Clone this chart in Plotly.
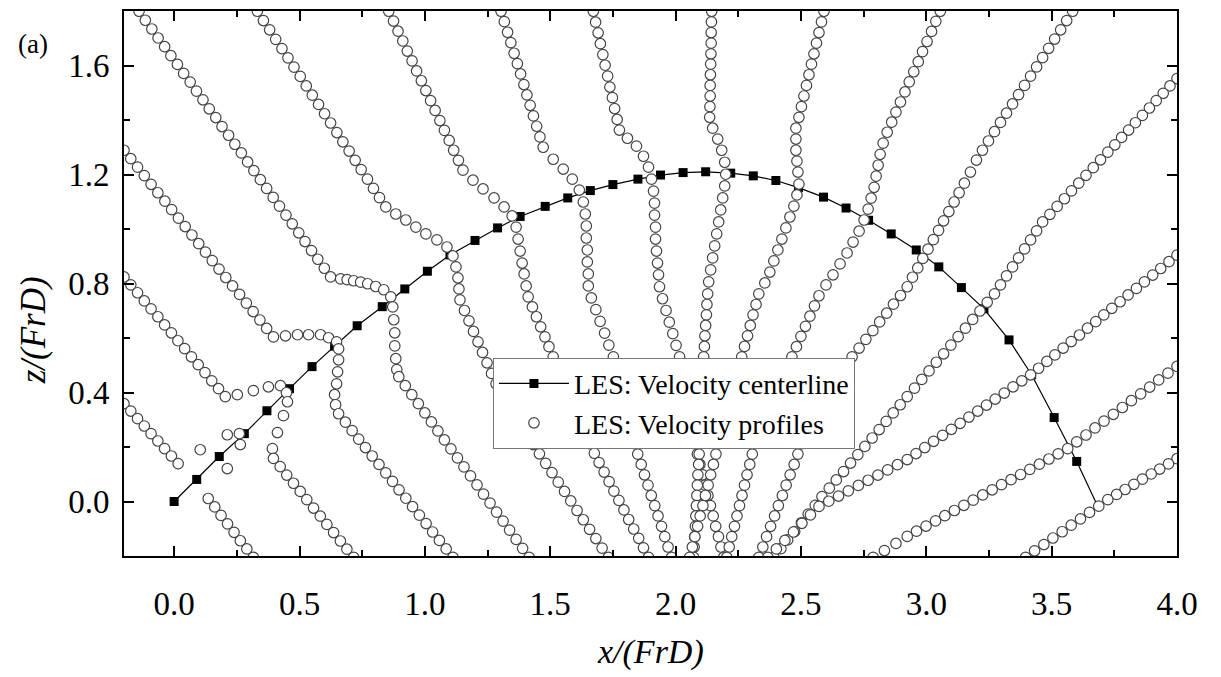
import plotly.graph_objects as go

# ---------------- data ----------------
center_x = [0.00, 0.09, 0.18, 0.28, 0.37, 0.46, 0.55, 0.64, 0.73, 0.83, 0.92, 1.01, 1.10, 1.20,
            1.29, 1.38, 1.48, 1.57, 1.66, 1.75, 1.85, 1.94, 2.03, 2.12, 2.22, 2.31, 2.40, 2.49,
            2.59, 2.68, 2.77, 2.86, 2.96, 3.05, 3.14, 3.23, 3.33, 3.42, 3.51, 3.60]
center_z = [0.000, 0.081, 0.165, 0.249, 0.333, 0.414, 0.495, 0.570, 0.645, 0.715, 0.780, 0.845,
            0.905, 0.958, 1.004, 1.046, 1.083, 1.114, 1.141, 1.163, 1.183, 1.198, 1.207, 1.210,
            1.205, 1.195, 1.178, 1.152, 1.117, 1.077, 1.032, 0.982, 0.923, 0.861, 0.785, 0.707,
            0.593, 0.465, 0.308, 0.147]
center_tail_x = [3.60, 3.68]
center_tail_z = [0.147, -0.01]

L3_x = [-0.200, -0.173, -0.146, -0.119, -0.092, -0.065, -0.038, -0.011, 0.016,
        0.104, 0.212, 0.212, 0.260, 0.264,
        0.136, 0.162, 0.187, 0.213, 0.239, 0.264, 0.290, 0.316]
L3_z = [0.359, 0.332, 0.304, 0.277, 0.249, 0.222, 0.194, 0.167, 0.139,
        0.190, 0.121, 0.245, 0.249, 0.209,
        0.011, -0.020, -0.051, -0.082, -0.113, -0.144, -0.174, -0.205]

L2_x = [-0.200, -0.173, -0.146, -0.119, -0.092, -0.065, -0.038, -0.011, 0.015, 0.042, 0.069, 0.096,
        0.123, 0.150, 0.177, 0.204,
        0.252, 0.316, 0.376, 0.424, 0.448, 0.452, 0.436, 0.412, 0.392,
        0.396, 0.423, 0.449, 0.476, 0.503, 0.529, 0.556, 0.583, 0.609, 0.636, 0.663, 0.689, 0.716]
L2_z = [0.824, 0.795, 0.766, 0.736, 0.707, 0.678, 0.648, 0.619, 0.590, 0.561, 0.531, 0.502,
        0.473, 0.443, 0.414, 0.385,
        0.392, 0.407, 0.421, 0.425, 0.399, 0.366, 0.315, 0.253, 0.194,
        0.158, 0.128, 0.097, 0.067, 0.037, 0.007, -0.024, -0.054, -0.084, -0.114, -0.145, -0.175, -0.205]

L1_x = [-0.200, -0.173, -0.146, -0.119, -0.092, -0.065, -0.037, -0.010, 0.017, 0.044, 0.071, 0.098,
        0.125, 0.152, 0.179, 0.206, 0.233, 0.261, 0.288, 0.315, 0.342, 0.369, 0.396,
        0.444, 0.492, 0.536, 0.584, 0.616, 0.648, 0.656, 0.656, 0.652, 0.648, 0.640, 0.644,
        0.656, 0.683, 0.710, 0.736, 0.763, 0.790, 0.817, 0.844, 0.871, 0.897, 0.924, 0.951,
        0.978, 1.005, 1.031, 1.058, 1.085, 1.112]
L1_z = [1.289, 1.258, 1.227, 1.196, 1.164, 1.133, 1.102, 1.071, 1.040, 1.009, 0.978, 0.946,
        0.915, 0.884, 0.853, 0.822, 0.791, 0.760, 0.728, 0.697, 0.666, 0.635, 0.604,
        0.608, 0.612, 0.612, 0.612, 0.601, 0.586, 0.560, 0.520, 0.476, 0.432, 0.392, 0.355,
        0.322, 0.291, 0.260, 0.229, 0.198, 0.167, 0.136, 0.105, 0.074, 0.043, 0.012, -0.019,
        -0.050, -0.081, -0.112, -0.143, -0.174, -0.205]

T1_x = [-0.140, -0.115, -0.089, -0.064, -0.038, -0.013, 0.013, 0.038, 0.064, 0.089, 0.115, 0.140,
        0.166, 0.191, 0.217, 0.242, 0.268, 0.293, 0.318, 0.344, 0.369, 0.395, 0.420, 0.446,
        0.471, 0.497, 0.522, 0.548, 0.573, 0.599, 0.624,
        0.664, 0.690, 0.716, 0.744, 0.772, 0.804, 0.836, 0.864, 0.872, 0.876, 0.880, 0.880, 0.884, 0.888,
        0.896, 0.922, 0.948, 0.974, 1.000, 1.026, 1.052, 1.078, 1.104, 1.130, 1.156, 1.182,
        1.208, 1.234, 1.260, 1.286, 1.312, 1.338, 1.364, 1.390, 1.416]
T1_z = [1.799, 1.766, 1.734, 1.701, 1.669, 1.636, 1.604, 1.571, 1.539, 1.506, 1.474, 1.441,
        1.409, 1.376, 1.344, 1.311, 1.279, 1.246, 1.214, 1.181, 1.149, 1.116, 1.084, 1.051,
        1.019, 0.986, 0.954, 0.921, 0.889, 0.856, 0.824,
        0.817, 0.814, 0.810, 0.805, 0.799, 0.789, 0.777, 0.751, 0.714, 0.667, 0.619, 0.571, 0.524, 0.484,
        0.458, 0.425, 0.392, 0.359, 0.325, 0.292, 0.259, 0.226, 0.193, 0.160, 0.127, 0.094,
        0.061, 0.027, -0.006, -0.039, -0.072, -0.105, -0.139, -0.172, -0.205]

T2_x = [0.332, 0.356, 0.381, 0.405, 0.430, 0.454, 0.478, 0.503, 0.527, 0.551, 0.576, 0.600,
        0.624, 0.649, 0.673, 0.698, 0.722, 0.746, 0.771, 0.795, 0.819, 0.844,
        0.884, 0.924, 0.964, 1.004, 1.048, 1.088, 1.112, 1.124, 1.132, 1.136,
        1.140, 1.158, 1.176, 1.194, 1.212, 1.230, 1.248, 1.266, 1.284,
        1.309, 1.333, 1.358, 1.383, 1.407, 1.432,
        1.457, 1.482, 1.507, 1.532, 1.557, 1.582, 1.607, 1.632, 1.657, 1.682, 1.707, 1.732]
T2_z = [1.799, 1.765, 1.731, 1.696, 1.662, 1.628, 1.594, 1.560, 1.525, 1.491, 1.457, 1.423,
        1.389, 1.354, 1.320, 1.286, 1.252, 1.218, 1.183, 1.149, 1.115, 1.081,
        1.055, 1.033, 1.007, 0.982, 0.960, 0.934, 0.901, 0.861, 0.821, 0.780,
        0.740, 0.701, 0.663, 0.624, 0.586, 0.547, 0.509, 0.470, 0.432,
        0.395, 0.358, 0.321, 0.283, 0.246, 0.209,
        0.175, 0.140, 0.106, 0.071, 0.037, 0.002, -0.033, -0.067, -0.102, -0.136, -0.171, -0.205]

T3_x = [0.856, 0.875, 0.893, 0.912, 0.930, 0.949, 0.967, 0.986, 1.004, 1.023, 1.041, 1.060,
        1.078, 1.097, 1.115, 1.134, 1.152,
        1.192, 1.232, 1.276, 1.316, 1.348, 1.364, 1.372, 1.380, 1.388, 1.396, 1.404, 1.412,
        1.429, 1.445, 1.462, 1.479, 1.495, 1.512,
        1.530, 1.548, 1.566, 1.584, 1.602, 1.620, 1.638, 1.656,
        1.676, 1.695, 1.715, 1.735, 1.754, 1.774, 1.794, 1.813, 1.833, 1.853, 1.872, 1.892]
T3_z = [1.799, 1.763, 1.726, 1.690, 1.653, 1.617, 1.580, 1.544, 1.508, 1.471, 1.435, 1.398,
        1.362, 1.325, 1.289, 1.252, 1.216,
        1.179, 1.147, 1.114, 1.081, 1.048, 1.007, 0.963, 0.919, 0.875, 0.835, 0.791, 0.751,
        0.714, 0.678, 0.641, 0.604, 0.568, 0.531,
        0.491, 0.451, 0.411, 0.371, 0.332, 0.292, 0.252, 0.212,
        0.177, 0.143, 0.108, 0.073, 0.038, 0.004, -0.031, -0.066, -0.101, -0.135, -0.170, -0.205]

T4_x = [1.304, 1.317, 1.330, 1.343, 1.356, 1.369, 1.382, 1.395, 1.407, 1.420, 1.433, 1.446,
        1.459, 1.472,
        1.512, 1.552, 1.588, 1.616, 1.632, 1.640, 1.644, 1.644, 1.648, 1.648, 1.652, 1.652,
        1.664, 1.682, 1.699, 1.717, 1.734, 1.752,
        1.763, 1.773, 1.784, 1.794, 1.805, 1.815, 1.826, 1.836,
        1.849, 1.863, 1.876, 1.890, 1.903, 1.917, 1.930, 1.944, 1.957, 1.970, 1.984]
T4_z = [1.799, 1.761, 1.722, 1.684, 1.645, 1.607, 1.569, 1.530, 1.492, 1.454, 1.415, 1.377,
        1.338, 1.300,
        1.256, 1.220, 1.183, 1.143, 1.099, 1.055, 1.011, 0.967, 0.923, 0.879, 0.835, 0.791,
        0.747, 0.704, 0.661, 0.618, 0.574, 0.531,
        0.491, 0.451, 0.411, 0.371, 0.332, 0.292, 0.252, 0.212,
        0.174, 0.136, 0.098, 0.060, 0.022, -0.015, -0.053, -0.091, -0.129, -0.167, -0.205]

T5_x = [1.672, 1.681, 1.691, 1.700, 1.710, 1.719, 1.729, 1.738, 1.748, 1.757, 1.767, 1.776,
        1.808, 1.844, 1.872, 1.892, 1.904, 1.912, 1.916, 1.916, 1.920, 1.920, 1.924, 1.928,
        1.932, 1.936,
        1.948, 1.962, 1.975, 1.989, 2.002, 2.016,
        2.024, 2.031, 2.039, 2.046, 2.054, 2.061, 2.069, 2.076,
        2.087, 2.097, 2.108, 2.118, 2.129, 2.139, 2.150, 2.160, 2.171, 2.181, 2.192]
T5_z = [1.799, 1.759, 1.720, 1.680, 1.640, 1.601, 1.561, 1.521, 1.482, 1.442, 1.402, 1.363,
        1.333, 1.304, 1.267, 1.227, 1.183, 1.139, 1.095, 1.051, 1.007, 0.963, 0.919, 0.875,
        0.832, 0.788,
        0.744, 0.701, 0.658, 0.616, 0.573, 0.531,
        0.491, 0.451, 0.411, 0.371, 0.332, 0.292, 0.252, 0.212,
        0.174, 0.136, 0.098, 0.060, 0.022, -0.015, -0.053, -0.091, -0.129, -0.167, -0.205]

T6_x = [2.144, 2.143, 2.142, 2.142, 2.141, 2.140, 2.139, 2.138, 2.138, 2.137, 2.136,
        2.148, 2.168, 2.184, 2.196, 2.200, 2.196, 2.188, 2.180, 2.172, 2.164, 2.156, 2.148,
        2.140, 2.132,
        2.128, 2.125, 2.123, 2.120, 2.117, 2.115, 2.112,
        2.110, 2.108, 2.106, 2.104, 2.102, 2.100, 2.098, 2.096,
        2.094, 2.092, 2.089, 2.087, 2.085, 2.083, 2.081, 2.079, 2.076, 2.074, 2.072]
T6_z = [1.799, 1.760, 1.721, 1.682, 1.643, 1.605, 1.566, 1.527, 1.488, 1.449, 1.410,
        1.370, 1.330, 1.289, 1.245, 1.201, 1.158, 1.114, 1.070, 1.026, 0.982, 0.938, 0.894,
        0.850, 0.806,
        0.762, 0.723, 0.685, 0.646, 0.608, 0.569, 0.531,
        0.491, 0.451, 0.411, 0.371, 0.332, 0.292, 0.252, 0.212,
        0.174, 0.136, 0.098, 0.060, 0.022, -0.015, -0.053, -0.091, -0.129, -0.167, -0.205]

T7_x = [2.592, 2.582, 2.572, 2.562, 2.552, 2.542, 2.532, 2.522, 2.512, 2.502, 2.492,
        2.480, 2.480, 2.480, 2.484, 2.488, 2.492, 2.484, 2.472, 2.456, 2.440, 2.424, 2.408,
        2.392, 2.376, 2.356, 2.332,
        2.321, 2.309, 2.298, 2.287, 2.275, 2.264,
        2.253, 2.241, 2.230, 2.218, 2.207, 2.195, 2.184, 2.172,
        2.161, 2.151, 2.140, 2.130, 2.119, 2.109, 2.098, 2.088, 2.077, 2.067, 2.056]
T7_z = [1.799, 1.760, 1.721, 1.682, 1.643, 1.605, 1.566, 1.527, 1.488, 1.449, 1.410,
        1.370, 1.330, 1.289, 1.249, 1.209, 1.165, 1.125, 1.084, 1.044, 1.004, 0.963, 0.923,
        0.883, 0.842, 0.802, 0.762,
        0.723, 0.685, 0.646, 0.608, 0.569, 0.531,
        0.491, 0.451, 0.411, 0.371, 0.332, 0.292, 0.252, 0.212,
        0.174, 0.136, 0.098, 0.060, 0.022, -0.015, -0.053, -0.091, -0.129, -0.167, -0.205]

T8_x = [3.056, 3.038, 3.021, 3.003, 2.985, 2.968, 2.950, 2.932, 2.915, 2.897, 2.879, 2.862, 2.844,
        2.828, 2.816, 2.808, 2.800, 2.792, 2.780, 2.768, 2.752, 2.732, 2.708, 2.684, 2.656,
        2.628, 2.600,
        2.572, 2.554, 2.536, 2.518, 2.500, 2.482, 2.464,
        2.446, 2.427, 2.409, 2.390, 2.372, 2.353, 2.335, 2.316,
        2.306, 2.296, 2.285, 2.275, 2.265, 2.255, 2.245, 2.235, 2.224, 2.214, 2.204]
T8_z = [1.799, 1.762, 1.725, 1.688, 1.651, 1.614, 1.577, 1.540, 1.503, 1.466, 1.429, 1.392, 1.355,
        1.315, 1.274, 1.234, 1.194, 1.153, 1.113, 1.073, 1.033, 0.992, 0.952, 0.912, 0.872,
        0.832, 0.795,
        0.755, 0.718, 0.680, 0.643, 0.606, 0.568, 0.531,
        0.491, 0.451, 0.411, 0.371, 0.332, 0.292, 0.252, 0.212,
        0.174, 0.136, 0.098, 0.060, 0.022, -0.015, -0.053, -0.091, -0.129, -0.167, -0.205]

T9_x = [3.584, 3.560, 3.536, 3.512, 3.488, 3.464, 3.440, 3.416, 3.392, 3.368, 3.344, 3.320,
        3.296, 3.272, 3.248, 3.224, 3.200, 3.176, 3.152,
        3.131, 3.111, 3.090, 3.069, 3.049, 3.028, 3.007, 2.986, 2.966, 2.945, 2.924,
        2.897, 2.869, 2.842, 2.814, 2.787, 2.759, 2.732, 2.704,
        2.682, 2.660, 2.637, 2.615, 2.593, 2.571, 2.548, 2.526, 2.504,
        2.488, 2.473, 2.457, 2.441, 2.426, 2.410, 2.395, 2.379, 2.363, 2.348, 2.332]
T9_z = [1.799, 1.765, 1.731, 1.697, 1.663, 1.629, 1.595, 1.561, 1.527, 1.493, 1.459, 1.425,
        1.391, 1.357, 1.323, 1.289, 1.253, 1.209, 1.168,
        1.133, 1.099, 1.064, 1.030, 0.995, 0.961, 0.926, 0.892, 0.857, 0.823, 0.788,
        0.756, 0.724, 0.691, 0.659, 0.627, 0.595, 0.563, 0.531,
        0.496, 0.460, 0.425, 0.389, 0.354, 0.318, 0.283, 0.247, 0.212,
        0.174, 0.136, 0.098, 0.060, 0.022, -0.015, -0.053, -0.091, -0.129, -0.167, -0.205]

R1_x = [4.000, 3.972, 3.945, 3.917, 3.890, 3.862, 3.834, 3.807, 3.779, 3.752, 3.724,
        3.695, 3.666, 3.637, 3.608, 3.579, 3.551, 3.522, 3.493, 3.464,
        3.440, 3.416, 3.392, 3.368, 3.344, 3.320, 3.296, 3.272,
        3.243, 3.214, 3.185, 3.156, 3.127, 3.098, 3.069, 3.040, 3.011, 2.982, 2.953, 2.924,
        2.896, 2.868, 2.840, 2.812,
        2.784, 2.755, 2.727, 2.698, 2.670, 2.641, 2.613, 2.584,
        2.557, 2.529, 2.502, 2.475, 2.447, 2.420, 2.392]
R1_z = [1.552, 1.525, 1.498, 1.471, 1.444, 1.417, 1.390, 1.363, 1.336, 1.309, 1.282,
        1.254, 1.225, 1.197, 1.168, 1.140, 1.111, 1.083, 1.054, 1.026,
        0.993, 0.960, 0.927, 0.894, 0.861, 0.828, 0.795, 0.762,
        0.731, 0.699, 0.668, 0.636, 0.605, 0.574, 0.542, 0.511, 0.479, 0.448, 0.416, 0.385,
        0.355, 0.325, 0.294, 0.264,
        0.233, 0.202, 0.172, 0.141, 0.110, 0.079, 0.049, 0.018,
        -0.014, -0.046, -0.078, -0.110, -0.141, -0.173, -0.205]

R2_x = [4.000, 3.968, 3.935, 3.903, 3.870, 3.838, 3.805, 3.773, 3.740, 3.708, 3.676, 3.643,
        3.611, 3.578, 3.546, 3.513, 3.481, 3.448, 3.416,
        3.381, 3.346, 3.311, 3.275, 3.240, 3.205, 3.170, 3.135, 3.100, 3.065, 3.029, 2.994,
        2.959, 2.924,
        2.885, 2.846, 2.807, 2.768, 2.729, 2.689, 2.650, 2.611, 2.572,
        2.538, 2.504, 2.470, 2.436, 2.402, 2.368]
R2_z = [0.904, 0.880, 0.855, 0.831, 0.806, 0.782, 0.758, 0.733, 0.709, 0.685, 0.660, 0.636,
        0.611, 0.587, 0.563, 0.538, 0.514, 0.489, 0.465,
        0.443, 0.421, 0.398, 0.376, 0.354, 0.332, 0.310, 0.287, 0.265, 0.243, 0.221, 0.198,
        0.176, 0.154,
        0.135, 0.116, 0.097, 0.078, 0.059, 0.039, 0.020, 0.001, -0.018,
        -0.049, -0.080, -0.112, -0.143, -0.174, -0.205]

R3_x = [4.000, 3.964, 3.927, 3.891, 3.855, 3.818, 3.782, 3.746, 3.709, 3.673, 3.637, 3.600, 3.564,
        3.526, 3.489, 3.451, 3.413, 3.376, 3.338, 3.300, 3.263, 3.225, 3.187, 3.150, 3.112,
        3.074, 3.037, 2.999, 2.961, 2.924,
        2.879, 2.833, 2.788]
R3_z = [0.496, 0.471, 0.446, 0.420, 0.395, 0.370, 0.345, 0.320, 0.295, 0.270, 0.244, 0.219, 0.194,
        0.175, 0.156, 0.137, 0.118, 0.099, 0.080, 0.062, 0.043, 0.024, 0.005, -0.014, -0.033,
        -0.052, -0.071, -0.090, -0.109, -0.128,
        -0.154, -0.180, -0.205]

R4_x = [4.000, 3.966, 3.931, 3.897, 3.862, 3.828, 3.793, 3.759, 3.724,
        3.688, 3.651, 3.615, 3.578, 3.542, 3.505, 3.469, 3.432, 3.396]
R4_z = [0.157, 0.138, 0.119, 0.101, 0.082, 0.063, 0.044, 0.026, 0.007,
        -0.017, -0.040, -0.064, -0.087, -0.111, -0.134, -0.158, -0.181, -0.205]

x_tick_vals = [0.0, 0.5, 1.0, 1.5, 2.0, 2.5, 3.0, 3.5, 4.0]
x_tick_text = ["0.0", "0.5", "1.0", "1.5", "2.0", "2.5", "3.0", "3.5", "4.0"]
y_tick_vals = [0.0, 0.4, 0.8, 1.2, 1.6]
y_tick_text = ["0.0", "0.4", "0.8", "1.2", "1.6"]

profiles = [(L3_x, L3_z), (L2_x, L2_z), (L1_x, L1_z), (T1_x, T1_z), (T2_x, T2_z),
            (T3_x, T3_z), (T4_x, T4_z), (T5_x, T5_z), (T6_x, T6_z), (T7_x, T7_z),
            (T8_x, T8_z), (T9_x, T9_z), (R1_x, R1_z), (R2_x, R2_z), (R3_x, R3_z), (R4_x, R4_z)]

# ---------------- figure ----------------
FONT = "Liberation Serif"
fig = go.Figure()

fig.add_trace(go.Scatter(
    x=center_x, y=center_z, mode="lines+markers", name="LES: Velocity centerline",
    line=dict(color="black", width=1.2),
    marker=dict(symbol="square", size=9, color="black"),
))
fig.add_trace(go.Scatter(
    x=center_tail_x, y=center_tail_z, mode="lines", showlegend=False,
    line=dict(color="black", width=1.2), hoverinfo="skip",
))

for i, (px, pz) in enumerate(profiles):
    fig.add_trace(go.Scatter(
        x=px, y=pz, mode="markers", name="LES: Velocity profiles",
        legendgroup="profiles", showlegend=(i == 0),
        marker=dict(symbol="circle", size=10.5, color="white",
                    line=dict(color="#444444", width=1.2)),
    ))

axis_common = dict(
    showline=True, linecolor="black", linewidth=2, mirror="allticks",
    ticks="inside", ticklen=10, tickwidth=2, tickcolor="black",
    showgrid=False, zeroline=False,
    tickfont=dict(family=FONT, size=33, color="black"),
)

fig.update_xaxes(range=[-0.2, 4.0], tickvals=x_tick_vals, ticktext=x_tick_text,
                 ticklabelstandoff=17,
                 minor=dict(ticks="inside", ticklen=6, tickwidth=2, tickcolor="black",
                            dtick=0.25, tick0=0, showgrid=False),
                 **axis_common)
fig.update_yaxes(range=[-0.2, 1.8], tickvals=y_tick_vals, ticktext=y_tick_text,
                 ticklabelstandoff=6,
                 minor=dict(ticks="inside", ticklen=6, tickwidth=2, tickcolor="black",
                            dtick=0.2, tick0=0, showgrid=False),
                 **axis_common)

fig.add_annotation(text="x/(FrD)", xref="paper", yref="paper", x=0.5, y=-0.176,
                   xanchor="center", yanchor="middle", showarrow=False,
                   font=dict(family=FONT, size=34, color="black", style="italic"))
fig.add_annotation(text="z/(FrD)", xref="paper", yref="paper", x=-0.086, y=0.415,
                   xanchor="center", yanchor="middle", showarrow=False, textangle=-90,
                   font=dict(family=FONT, size=35, color="black", style="italic"))
fig.add_annotation(text="(a)", xref="paper", yref="paper", x=-0.086, y=0.94,
                   xanchor="center", yanchor="middle", showarrow=False,
                   font=dict(family=FONT, size=27, color="black"))

fig.update_layout(
    width=1221, height=677, autosize=False,
    margin=dict(l=124, r=44, t=9, b=121),
    paper_bgcolor="white", plot_bgcolor="white",
    font=dict(family=FONT, color="black"),
    legend=dict(x=0.3504, y=0.3638, xanchor="left", yanchor="top",
                bgcolor="white", bordercolor="#777777", borderwidth=1,
                font=dict(family=FONT, size=28, color="black"),
                itemwidth=70, tracegroupgap=0),
)

fig.write_html("out.html")
